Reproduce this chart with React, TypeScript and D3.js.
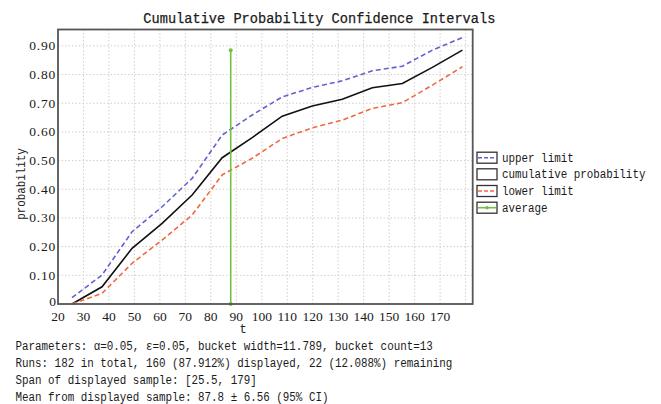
import React from "react";
import * as d3 from "d3";

const tValues = [25.5, 37.29, 49.08, 60.87, 72.66, 84.45, 96.23, 108.02, 119.81, 131.6, 143.39, 155.18, 166.97, 178.76];
const cumulative = [0, 0.06, 0.194, 0.281, 0.38, 0.51, 0.58, 0.655, 0.69, 0.714, 0.754, 0.769, 0.825, 0.885];
const upperLimit = [0.022, 0.101, 0.252, 0.339, 0.438, 0.589, 0.659, 0.722, 0.755, 0.778, 0.813, 0.829, 0.885, 0.929];
const lowerLimit = [0, 0.037, 0.142, 0.223, 0.31, 0.45, 0.508, 0.577, 0.614, 0.641, 0.682, 0.702, 0.763, 0.827];
const averageT = 87.8;
const averageTop = 0.885;

const xTickLabels = [20, 30, 40, 50, 60, 70, 80, 90, 100, 110, 120, 130, 140, 150, 160, 170];
const xGridValues = [30, 40, 50, 60, 70, 80, 90, 100, 110, 120, 130, 140, 150, 160, 170, 180];
const yTickValues = [0, 0.1, 0.2, 0.3, 0.4, 0.5, 0.6, 0.7, 0.8, 0.9];

const legendLabels = ["upper limit", "cumulative probability", "lower limit", "average"];
const infoLines = [
  "Parameters: \u03b1=0.05, \u03b5=0.05, bucket width=11.789, bucket count=13",
  "Runs: 182 in total, 160 (87.912%) displayed, 22 (12.088%) remaining",
  "Span of displayed sample: [25.5, 179]",
  "Mean from displayed sample: 87.8 \u00b1 6.56 (95% CI)",
];

const W = 661;
const H = 404;
const left = 58;
const right = 472.7;
const top = 29.5;
const bottom = 304;

const MONO = "'Liberation Mono', 'DejaVu Sans Mono', monospace";
const SERIF = "'Liberation Serif', 'DejaVu Serif', serif";

const BLUE = "#6262cf";
const ORANGE = "#ee6a3e";
const BLACK = "#111111";
const GREEN = "#74c043";

export default function App() {
  const x = d3.scaleLinear().domain([20, 182.8]).range([left, right]);
  const y = d3.scaleLinear().domain([0, 0.957]).range([bottom, top]);

  const mk = (vals: number[]) =>
    d3
      .line<number>()
      .x((_, i) => x(tValues[i]))
      .y((d) => y(d))(vals) || "";

  const charW = 6.52;
  const monoLen = (s: string) => s.length * charW;

  const series = [
    { vals: upperLimit, color: BLUE, dash: "5,3" },
    { vals: cumulative, color: BLACK, dash: "none" },
    { vals: lowerLimit, color: ORANGE, dash: "5,3" },
  ];

  const legendX = 477;
  const legendRowY = [157.7, 174.3, 191, 207.7];

  return (
    <svg
      width={W}
      height={H}
      style={{ position: "absolute", left: 0, top: 0, background: "#fff" }}
    >
      <rect x={0} y={0} width={W} height={H} fill="#fff" />
      {/* title */}
      <text
        x={(left + right) / 2 + 54}
        y={23}
        textAnchor="middle"
        fontFamily={MONO}
        fontSize={14.5}
        fill="#1a1a1a"
        stroke="#1a1a1a"
        strokeWidth={0.25}
        textLength={352}
        lengthAdjust="spacingAndGlyphs"
      >
        Cumulative Probability Confidence Intervals
      </text>

      {/* grid */}
      <g stroke="#d8cccc" strokeWidth={1} strokeDasharray="1.5,2">
        {xGridValues.map((v) => (
          <line key={"gx" + v} x1={x(v)} x2={x(v)} y1={top} y2={bottom} />
        ))}
        {yTickValues
          .filter((v) => v > 0)
          .map((v) => (
            <line key={"gy" + v} x1={left} x2={right} y1={y(v)} y2={y(v)} />
          ))}
      </g>

      {/* series */}
      {series.map((s, i) => (
        <path
          key={i}
          d={mk(s.vals)}
          fill="none"
          stroke={s.color}
          strokeWidth={1.6}
          strokeDasharray={s.dash}
        />
      ))}

      {/* average */}
      <line
        x1={x(averageT)}
        x2={x(averageT)}
        y1={y(0)}
        y2={y(averageTop)}
        stroke={GREEN}
        strokeWidth={1.6}
      />
      <circle cx={x(averageT)} cy={y(averageTop)} r={2} fill={GREEN} />
      <circle cx={x(averageT)} cy={y(0)} r={2} fill={GREEN} />

      {/* frame */}
      <rect
        x={left}
        y={top}
        width={right - left}
        height={bottom - top}
        fill="none"
        stroke="#555"
        strokeWidth={1.8}
      />

      {/* y tick labels */}
      {yTickValues.map((v) => (
        <text
          key={"yt" + v}
          x={left - 2}
          y={v === 0 ? y(v) + 1.5 : y(v) + 4.5}
          textAnchor="end"
          fontFamily={SERIF}
          fontSize={13.5}
          fill="#1a1a1a"
          letterSpacing={v === 0 ? 0 : 0.8}
        >
          {v === 0 ? "0" : d3.format(".2f")(v)}
        </text>
      ))}

      {/* x tick labels */}
      {xTickLabels.map((v) => (
        <text
          key={"xt" + v}
          x={x(v)}
          y={bottom + 16.5}
          textAnchor="middle"
          fontFamily={SERIF}
          fontSize={13.5}
          fill="#1a1a1a"
        >
          {v}
        </text>
      ))}

      {/* axis titles */}
      <text
        x={243}
        y={333}
        textAnchor="middle"
        fontFamily={MONO}
        fontSize={12}
        fill="#222"
      >
        t
      </text>
      <text
        transform={`translate(24.5,184) rotate(-90)`}
        textAnchor="middle"
        fontFamily={MONO}
        fontSize={12}
        fill="#222"
        textLength={monoLen("probability")}
        lengthAdjust="spacingAndGlyphs"
      >
        probability
      </text>

      {/* legend */}
      {legendLabels.map((lab, i) => {
        const cy = legendRowY[i];
        const bx = legendX;
        const bw = 20;
        const bh = 11;
        return (
          <g key={lab}>
            <rect
              x={bx}
              y={cy - bh / 2}
              width={bw}
              height={bh}
              fill="#fff"
              stroke="#333"
              strokeWidth={1.3}
            />
            {i === 0 && (
              <line x1={bx + 1} x2={bx + bw - 1} y1={cy} y2={cy} stroke={BLUE} strokeWidth={1.6} strokeDasharray="4,2" />
            )}
            {i === 2 && (
              <line x1={bx + 1} x2={bx + bw - 1} y1={cy} y2={cy} stroke={ORANGE} strokeWidth={1.6} strokeDasharray="4,2" />
            )}
            {i === 3 && (
              <g>
                <line x1={bx + 1} x2={bx + bw - 1} y1={cy} y2={cy} stroke={GREEN} strokeWidth={1.6} />
                <circle cx={bx + bw / 2} cy={cy} r={1.8} fill={GREEN} />
              </g>
            )}
            <text
              x={bx + 25}
              y={cy + 4}
              fontFamily={MONO}
              fontSize={12}
              fill="#1a1a1a"
              textLength={monoLen(lab)}
              lengthAdjust="spacingAndGlyphs"
            >
              {lab}
            </text>
          </g>
        );
      })}

      {/* info lines */}
      {infoLines.map((s, i) => (
        <text
          key={"info" + i}
          x={15.5}
          y={349.5 + i * 17}
          fontFamily={MONO}
          fontSize={12}
          fill="#1a1a1a"
          textLength={monoLen(s)}
          lengthAdjust="spacingAndGlyphs"
        >
          {s}
        </text>
      ))}
    </svg>
  );
}
